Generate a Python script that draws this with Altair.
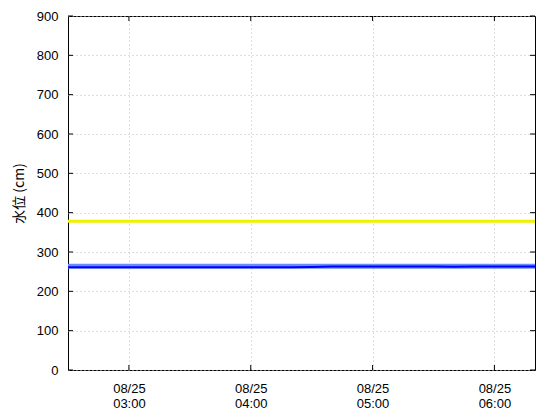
import altair as alt
import pandas as pd

times = ["2024-08-25T02:30", "2024-08-25T02:40", "2024-08-25T02:50", "2024-08-25T03:00",
         "2024-08-25T03:10", "2024-08-25T03:20", "2024-08-25T03:30", "2024-08-25T03:40",
         "2024-08-25T03:50", "2024-08-25T04:00", "2024-08-25T04:10", "2024-08-25T04:20",
         "2024-08-25T04:30", "2024-08-25T04:40", "2024-08-25T04:50", "2024-08-25T05:00",
         "2024-08-25T05:10", "2024-08-25T05:20", "2024-08-25T05:30", "2024-08-25T05:40",
         "2024-08-25T05:50", "2024-08-25T06:00", "2024-08-25T06:10", "2024-08-25T06:20"]
level = [261, 261, 261, 261, 261, 261, 261, 261, 261, 261, 261, 261,
         262, 263, 263, 263, 263, 263, 263, 262.5, 263, 263, 263, 263]
band = [263.5, 263.5, 263.5, 263.5, 263.5, 263.5, 263.5, 263.5, 263.5, 263.5, 263.5, 263.5,
        263.5, 263.5, 263.5, 263.5, 263.5, 263.5, 263.5, 263.5, 263.5, 263.5, 263.5, 263.5]
yellow = [378, 378, 378, 378, 378, 378, 378, 378, 378, 378, 378, 378,
          378, 378, 378, 378, 378, 378, 378, 378, 378, 378, 378, 378]
x_ticks = ["2024-08-25T03:00", "2024-08-25T04:00", "2024-08-25T05:00", "2024-08-25T06:00"]
y_ticks = [0, 100, 200, 300, 400, 500, 600, 700, 800, 900]

W, H = 467, 354

df = pd.DataFrame({"t": times, "level": level, "band": band, "yellow": yellow})
xt = pd.DataFrame({"t": x_ticks})
yt = pd.DataFrame({"v": y_ticks})

xscale = alt.Scale(domain=["2024-08-25T02:30", "2024-08-25T06:20"], nice=False)
yscale = alt.Scale(domain=[0, 900], nice=False)

grid_style = dict(grid=True, gridColor="#bcbcbc", gridDash=[1, 3], gridWidth=1,
                  ticks=False, domain=False, labelFont="Liberation Sans",
                  labelFontSize=13, labelColor="black", labelOverlap=False)

xaxis = alt.Axis(
    title=None,
    values=[alt.DateTime(year=2024, month=8, date=25, hours=h) for h in (3, 4, 5, 6)],
    labelExpr="[timeFormat(datum.value, '%m/%d'), timeFormat(datum.value, '%H:%M')]",
    labelPadding=12, labelLineHeight=15.5, **grid_style,
)
yaxis = alt.Axis(
    title="水位 (cm)", values=y_ticks, labelPadding=10, titlePadding=10,
    titleFont="Noto Sans CJK JP", titleFontSize=14, titleFontWeight="normal",
    titleColor="black", **grid_style,
)


def X(field):
    return alt.X(field, scale=xscale, axis=xaxis)


def Y(field):
    return alt.Y(field, scale=yscale, axis=yaxis)


base = alt.Chart(df)

yellow_line = base.mark_line(color="#f0f000", strokeWidth=3).encode(x=X("t:T"), y=Y("yellow:Q"))
band_line = base.mark_line(color="#6a8cff", strokeWidth=5).encode(x=X("t:T"), y=Y("band:Q"))
level_line = base.mark_line(color="#0000ff", strokeWidth=2).encode(x=X("t:T"), y=Y("level:Q"))

tick_len = 5
ytick_l = alt.Chart(yt).mark_rule(color="black").encode(
    y=Y("v:Q"), x=alt.value(0), x2=alt.value(tick_len))
ytick_r = alt.Chart(yt).mark_rule(color="black").encode(
    y=Y("v:Q"), x=alt.value(W - tick_len), x2=alt.value(W))
xtick_t = alt.Chart(xt).mark_rule(color="black").encode(
    x=X("t:T"), y=alt.value(0), y2=alt.value(tick_len))
xtick_b = alt.Chart(xt).mark_rule(color="black").encode(
    x=X("t:T"), y=alt.value(H - tick_len), y2=alt.value(H))

chart = alt.layer(
    yellow_line, band_line, level_line, ytick_l, ytick_r, xtick_t, xtick_b
).properties(
    width=W, height=H,
    background="white",
    autosize=alt.AutoSizeParams(type="none"),
    padding={"left": 60, "top": 8, "right": 17, "bottom": 42},
).configure_view(
    stroke="black", strokeWidth=1
)

chart.save("out.html", embed_options={"renderer": "svg", "actions": False})
